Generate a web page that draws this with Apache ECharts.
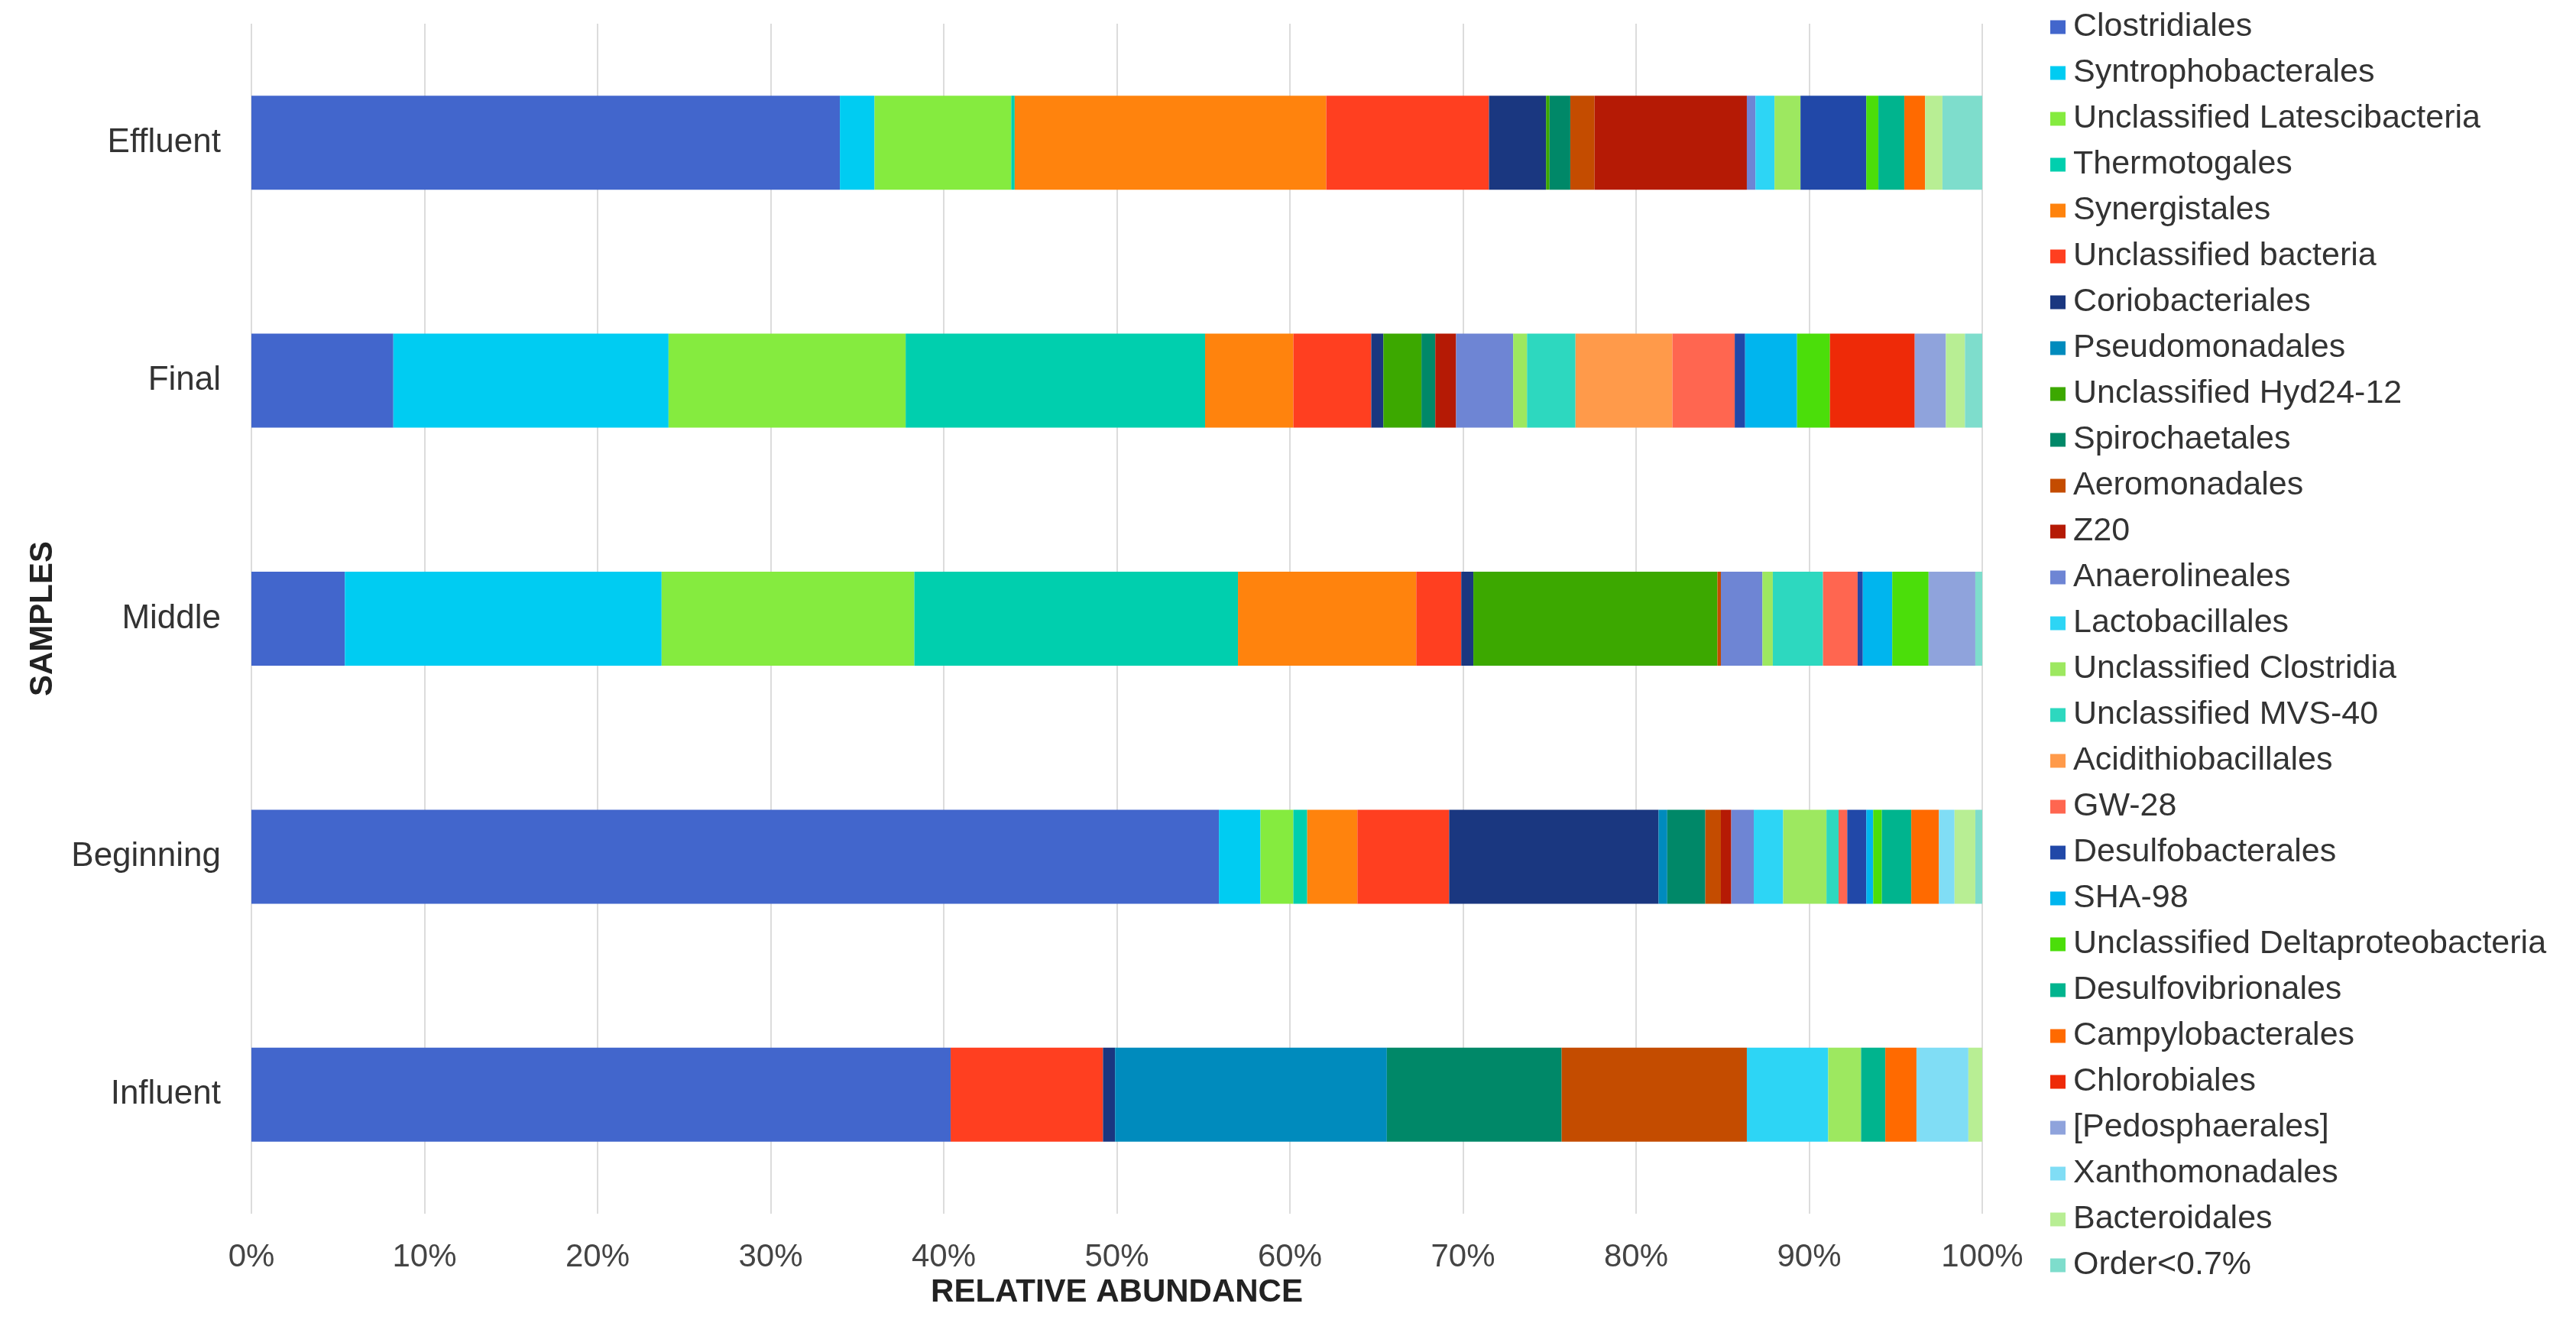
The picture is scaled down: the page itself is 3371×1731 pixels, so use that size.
<!DOCTYPE html>
<html>
<head>
<meta charset="utf-8">
<script src="https://cdn.jsdelivr.net/npm/echarts@6/dist/echarts.min.js"></script>
<style>
  html, body { margin: 0; padding: 0; background: #fff; }
  #chart { width: 3371px; height: 1731px; }
</style>
</head>
<body>
<div id="chart"></div>
<script>
var samples = ['Influent', 'Beginning', 'Middle', 'Final', 'Effluent'];

var orders = [
    'Clostridiales', 'Syntrophobacterales', 'Unclassified Latescibacteria', 'Thermotogales',
    'Synergistales', 'Unclassified bacteria', 'Coriobacteriales', 'Pseudomonadales',
    'Unclassified Hyd24-12', 'Spirochaetales', 'Aeromonadales', 'Z20',
    'Anaerolineales', 'Lactobacillales', 'Unclassified Clostridia', 'Unclassified MVS-40',
    'Acidithiobacillales', 'GW-28', 'Desulfobacterales', 'SHA-98',
    'Unclassified Deltaproteobacteria', 'Desulfovibrionales', 'Campylobacterales', 'Chlorobiales',
    '[Pedosphaerales]', 'Xanthomonadales', 'Bacteroidales', 'Order<0.7%'
];

var colors = [
    '#4266cc', '#00ccf2', '#85eb3f', '#00cfae',
    '#ff830d', '#ff3f20', '#1a3780', '#008bbd',
    '#3ca800', '#008868', '#c44c00', '#b51a05',
    '#6e85d4', '#2dd5f5', '#9de860', '#2dd8bf',
    '#ff9a4a', '#ff6650', '#2148a8', '#00b5ee',
    '#4bde0a', '#00b48e', '#ff6a00', '#ee2a08',
    '#8fa3dc', '#80ddf5', '#b8ee94', '#7eddcc'
];

// relative abundance (%) per sample, same order as `orders`
var influent  = [40.4, 0, 0, 0, 0, 8.8, 0.7, 15.7, 0, 10.1, 10.7, 0, 0, 4.7, 1.9, 0, 0, 0, 0, 0, 0, 1.4, 1.8, 0, 0, 3.0, 0.8, 0];
var beginning = [55.9, 2.4, 1.9, 0.8, 2.9, 5.3, 12.1, 0.5, 0, 2.2, 0.9, 0.6, 1.3, 1.7, 2.5, 0.7, 0, 0.5, 1.1, 0.4, 0.5, 1.7, 1.6, 0, 0, 0.9, 1.2, 0.4];
var middle    = [5.4, 18.3, 14.6, 18.7, 10.3, 2.6, 0.7, 0, 14.1, 0, 0.2, 0, 2.4, 0, 0.6, 2.9, 0, 2.0, 0.3, 1.7, 2.1, 0, 0, 0, 2.7, 0, 0, 0.4];
var finalS    = [8.2, 15.9, 13.7, 17.3, 5.1, 4.5, 0.7, 0, 2.2, 0.8, 0, 1.2, 3.3, 0, 0.8, 2.8, 5.6, 3.6, 0.6, 3.0, 1.9, 0, 0, 4.9, 1.8, 0, 1.1, 1.0];
var effluent  = [34.0, 2.0, 7.9, 0.2, 18.0, 9.4, 3.3, 0, 0.2, 1.2, 1.4, 8.8, 0.5, 1.1, 1.5, 0, 0, 0, 3.8, 0, 0.7, 1.5, 1.2, 0, 0, 0, 1.0, 2.3];

var xTicks = ['0%', '10%', '20%', '30%', '40%', '50%', '60%', '70%', '80%', '90%', '100%'];

var bySample = [influent, beginning, middle, finalS, effluent];

var series = orders.map(function (name, i) {
    return {
        name: name,
        type: 'bar',
        stack: 'total',
        barWidth: 123,
        itemStyle: { color: colors[i] },
        data: bySample.map(function (s) { return s[i]; })
    };
});

var chart = echarts.init(document.getElementById('chart'));
var font = 'Liberation Sans, Arial, sans-serif';

var option = {
    animation: false,
    textStyle: { fontFamily: font },
    grid: { left: 329, right: 777, top: 31, bottom: 143 },
    legend: {
        orient: 'vertical',
        left: 2683,
        top: 14,
        padding: 0,
        icon: 'rect',
        itemWidth: 20,
        itemHeight: 18,
        itemGap: 17,
        textStyle: { fontFamily: font, fontSize: 43, lineHeight: 40, color: '#333', padding: [0, 0, 0, 5] },
        data: orders
    },
    xAxis: {
        type: 'value',
        min: 0,
        max: 100,
        interval: 10,
        name: 'RELATIVE ABUNDANCE',
        nameLocation: 'middle',
        nameGap: 82,
        nameTextStyle: { fontFamily: font, fontSize: 42, fontWeight: 'bold', color: '#222' },
        axisLine: { show: false },
        axisTick: { show: false },
        axisLabel: {
            margin: 36,
            fontSize: 42,
            color: '#444',
            formatter: function (v) { return xTicks[Math.round(v / 10)]; }
        },
        splitLine: { lineStyle: { color: '#dcdcdc', width: 2 } }
    },
    yAxis: {
        type: 'category',
        data: samples,
        name: 'SAMPLES',
        nameLocation: 'middle',
        nameGap: 252,
        nameRotate: 90,
        nameTextStyle: { fontFamily: font, fontSize: 42, fontWeight: 'bold', color: '#222' },
        axisLine: { show: false },
        axisTick: { show: false },
        axisLabel: { margin: 40, fontSize: 44, color: '#333' },
        splitLine: { show: false }
    },
    series: series
};

chart.setOption(option);
</script>
</body>
</html>
